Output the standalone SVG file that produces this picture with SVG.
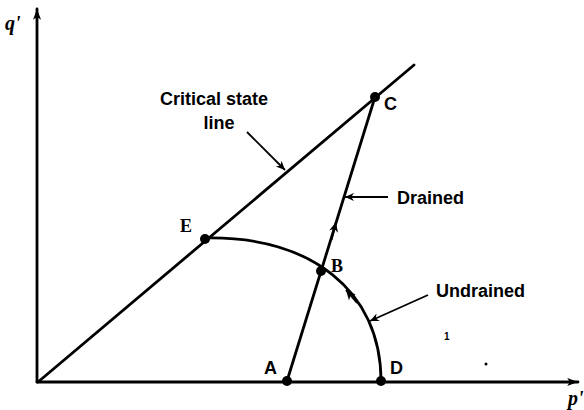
<svg xmlns="http://www.w3.org/2000/svg" width="584" height="410" viewBox="0 0 584 410">
<defs>
<style>
.ln{stroke:#000;stroke-width:2.8;fill:none;stroke-linecap:round}
.ld{stroke:#000;stroke-width:1.8;fill:none}
.lb{font-family:"Liberation Sans",Arial,sans-serif;font-weight:bold;font-size:18px;fill:#000}
.ls{font-family:"Liberation Serif","Times New Roman",serif;font-weight:bold;font-size:18px;fill:#000}
.ax{font-family:"Liberation Serif","Times New Roman",serif;font-weight:bold;font-style:italic;font-size:20px;fill:#000}
</style>
<marker id="ah" viewBox="0 0 10 10" refX="10" refY="5" markerWidth="12" markerHeight="9" markerUnits="userSpaceOnUse" orient="auto">
<path d="M0,0.5 L10,5 L0,9.5 L3,5 Z" fill="#000"/>
</marker>
<marker id="mh" viewBox="0 0 10 10" refX="10" refY="5" markerWidth="13" markerHeight="10" markerUnits="userSpaceOnUse" orient="auto">
<path d="M0,0.5 L10,5 L0,9.5 L3,5 Z" fill="#000"/>
</marker>
<marker id="axh" viewBox="0 0 12 10" refX="12" refY="5" markerWidth="14" markerHeight="9" markerUnits="userSpaceOnUse" orient="auto">
<path d="M0,0.5 L12,5 L0,9.5 L3,5 Z" fill="#000"/>
</marker>
</defs>
<rect width="584" height="410" fill="#fff"/>
<g id="connectors">
<line id="q-axis" class="ln" x1="37" y1="382" x2="37" y2="9" marker-end="url(#axh)"/>
<line id="p-axis" class="ln" x1="37" y1="382" x2="578" y2="382" marker-end="url(#axh)"/>
<line id="csl" class="ln" x1="38" y1="382" x2="414" y2="65"/>
<line id="drained" class="ln" x1="287" y1="381" x2="375" y2="97"/>
<path id="undrained" class="ln" d="M205,238 C310,236 381,290 381,381"/>
<line class="ld" x1="331.5" y1="240" x2="336" y2="222" marker-end="url(#mh)"/>
<line class="ld" x1="357" y1="303" x2="346" y2="290" marker-end="url(#mh)"/>
<line class="ld" x1="247" y1="132" x2="285" y2="170" marker-end="url(#ah)"/>
<line class="ld" x1="388" y1="197" x2="345" y2="197" marker-end="url(#ah)"/>
<line class="ld" x1="428" y1="295" x2="370" y2="321" marker-end="url(#ah)"/>
</g>
<g id="node-A"><circle cx="287" cy="381" r="5"/><text class="lb" x="264" y="374">A</text></g>
<g id="node-B"><circle cx="321" cy="271" r="5"/><text class="ls" x="331" y="272">B</text></g>
<g id="node-C"><circle cx="375" cy="97" r="5"/><text class="lb" x="384" y="110">C</text></g>
<g id="node-D"><circle cx="381" cy="381" r="5"/><text class="lb" x="390" y="374">D</text></g>
<g id="node-E"><circle cx="205" cy="239" r="5"/><text class="ls" x="180" y="232">E</text></g>
<g id="labels">
<text class="lb" x="214" y="105" text-anchor="middle">Critical state</text>
<text class="lb" x="219" y="129" text-anchor="middle">line</text>
<text class="lb" x="397" y="204">Drained</text>
<text class="lb" x="436" y="297">Undrained</text>
<text class="ax" x="5" y="30">q'</text>
<text class="ax" x="568" y="405">p'</text>
<text class="lb" x="444" y="340" style="font-size:10px">1</text>
<circle cx="486" cy="364" r="1.5"/>
</g>
</svg>
